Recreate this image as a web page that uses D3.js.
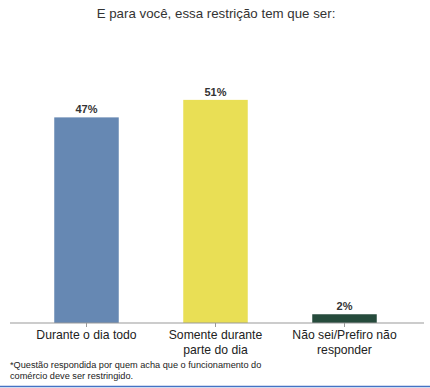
<!DOCTYPE html>
<html>
<head>
<meta charset="utf-8">
<script src="https://cdn.jsdelivr.net/npm/d3@7"></script>
<style>
  body { margin: 0; background: #fff; }
  svg { display: block; font-family: "Liberation Sans", Arial, sans-serif; }
</style>
</head>
<body>
<svg id="chart" width="430" height="388"></svg>
<script>
const categories = ['Durante o dia todo', 'Somente durante parte do dia', 'Não sei/Prefiro não responder']
const labelLines = [['Durante o dia todo'], ['Somente durante', 'parte do dia'], ['Não sei/Prefiro não', 'responder']]
const values = [47, 51, 2]
const colors = ['#6688b3', '#e9df55', '#264b3c']

const svg = d3.select('#chart')
const baseY = 323

const x = d3.scaleBand().domain(categories).range([22, 409]).paddingInner(0.5).paddingOuter(0.25)
const y = d3.scaleLinear().domain([0, 60]).range([baseY, 60.5])

// title
svg.append('text')
  .attr('x', 216).attr('y', 18)
  .attr('text-anchor', 'middle')
  .style('font-size', '13.3px')
  .style('fill', '#333')
  .text('E para você, essa restrição tem que ser:')

// bars
svg.selectAll('.bar').data(values).enter().append('rect')
  .attr('class', 'bar')
  .attr('x', (d, i) => x(categories[i]))
  .attr('width', x.bandwidth())
  .attr('y', d => y(d))
  .attr('height', d => baseY - y(d))
  .attr('fill', (d, i) => colors[i])

// value labels
svg.selectAll('.val').data(values).enter().append('text')
  .attr('class', 'val')
  .attr('x', (d, i) => x(categories[i]) + x.bandwidth() / 2)
  .attr('y', d => y(d) - 4)
  .attr('text-anchor', 'middle')
  .style('font-size', '11px')
  .style('font-weight', 'bold')
  .style('fill', '#333')
  .text(d => d + '%')

// axis
const axis = svg.append('g').attr('transform', `translate(0,${baseY})`)
  .call(d3.axisBottom(x).tickSize(4).tickFormat(''))
axis.select('.domain').remove()
axis.selectAll('.tick line').attr('stroke', '#999')
axis.append('line')
  .attr('x1', 10).attr('x2', 424)
  .attr('stroke', '#999').attr('stroke-width', 1)

// category labels
const cat = svg.selectAll('.cat').data(labelLines).enter().append('text')
  .attr('class', 'cat')
  .attr('text-anchor', 'middle')
  .attr('x', (d, i) => x(categories[i]) + x.bandwidth() / 2)
  .attr('y', 339)
  .style('font-size', '12.2px')
  .style('fill', '#222')
cat.selectAll('tspan').data(d => d).enter().append('tspan')
  .attr('x', function () { return d3.select(this.parentNode).attr('x') })
  .attr('dy', (d, i) => i === 0 ? 0 : 15)
  .text(d => d)

// footnote
const note = svg.append('text')
  .attr('x', 10).attr('y', 368)
  .style('font-size', '9.2px')
  .style('fill', '#222')
note.append('tspan').attr('x', 10).text('*Questão respondida por quem acha que o funcionamento do')
note.append('tspan').attr('x', 10).attr('dy', 11).text('comércio deve ser restringido.')

// bottom rule
svg.append('line')
  .attr('x1', 0).attr('x2', 430)
  .attr('y1', 386.5).attr('y2', 386.5)
  .attr('stroke', '#4472c4').attr('stroke-width', 1.5)
</script>
</body>
</html>
